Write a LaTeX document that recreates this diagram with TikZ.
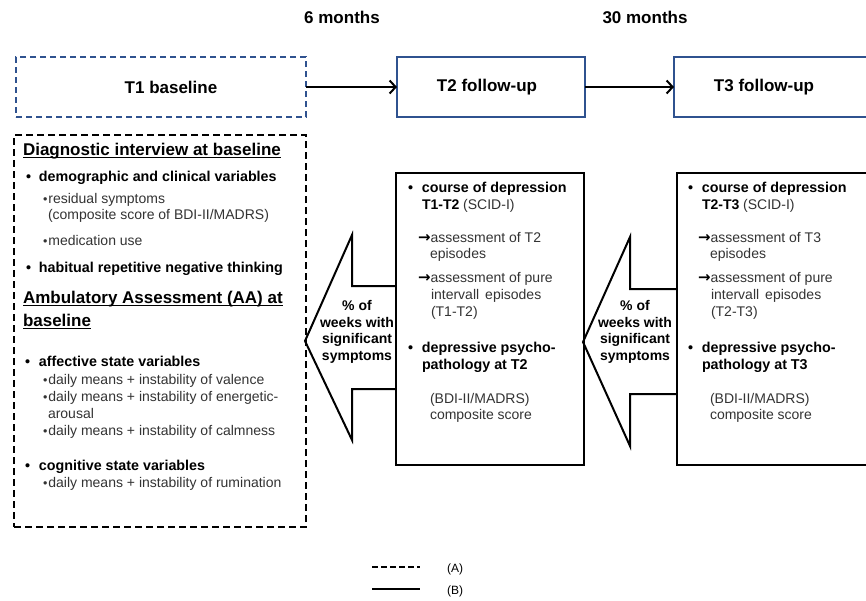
\documentclass[tikz,border=0pt]{standalone}
\usepackage{fontspec}
\setmainfont{Liberation Sans}
\newfontfamily\symfont{DejaVu Sans}
\usetikzlibrary{arrows.meta}
\definecolor{boxblue}{HTML}{2F528F}
\definecolor{bodygray}{HTML}{333333}
\newcommand{\sbul}{{\fontsize{12.5}{12}\selectfont•}\hspace{1pt}}
\newcommand{\rarr}{{\symfont\bfseries\fontsize{15}{15}\selectfont\color{black}→}}
\begin{document}
\begin{tikzpicture}[x=1pt,y=-1pt,
  every node/.style={inner sep=0pt, outer sep=0pt},
  tbox/.style={draw=boxblue, line width=2pt, minimum height=60pt},
  head/.style={font=\fontsize{17}{20}\selectfont\bfseries},
  hb/.style={anchor=base west, font=\fontsize{17}{20}\selectfont\bfseries},
  body/.style={anchor=base west, font=\fontsize{14}{17}\selectfont, text=bodygray},
  bbody/.style={anchor=base west, font=\fontsize{14.3}{17}\selectfont\bfseries, text=black},
  atext/.style={align=center, font=\fontsize{14}{16.7}\selectfont\bfseries},
  conn/.style={line width=2.5pt, -{Straight Barb[length=6pt,width=13pt,line width=2pt]}},
  bigarrow/.style={draw=black, line width=2pt, fill=white, line join=miter},
  panel/.style={draw=black, line width=2pt},
  uline/.style={line width=1.3pt},
  legline/.style={line width=2.5pt}
]
\useasboundingbox (0,0) rectangle (866,600);
\fill[white] (0,0) rectangle (866,600);

% time labels
\node[head] (m6) at (342,17) {6 months};
\node[head] (m30) at (645,17) {30 months};

% top boxes
\node[tbox, dash pattern=on 6pt off 4pt, minimum width=290pt] (t1) at (161,87) {};
\node[head] (t1l) at (171,87) {T1 baseline};
\node[tbox, minimum width=188pt] (t2) at (491,87) {};
\node[head] (t2l) at (487,87) {T2 follow-up};
\node[tbox, minimum width=206pt] (t3) at (777,87) {};
\node[head] (t3l) at (764,87) {T3 follow-up};
\draw[conn] (t1.east) -- (t2.west);
\draw[conn] (t2.east) -- (t3.west);

% big arrows
\draw[bigarrow] (396,286) -- (352,286) -- (352,235) -- (305,341) -- (352,440) -- (352,389) -- (396,389);
\draw[bigarrow] (677,289) -- (630,289) -- (630,237) -- (583,342) -- (630,446) -- (630,394) -- (677,394);
\node[atext] (a1t) at (357,332) {\% of\\weeks with\\significant\\symptoms};
\node[atext] (a2t) at (635,332) {\% of\\weeks with\\significant\\symptoms};

% panels
\node[panel, dash pattern=on 7pt off 4pt, minimum width=292pt, minimum height=392pt] (left) at (160,331) {};
\node[panel, minimum width=188pt, minimum height=292pt] (p2) at (490,319) {};
\node[panel, minimum width=206pt, minimum height=292pt] (p3) at (780,319) {};

% left panel text
\node[hb] (d1) at (23,155) {Diagnostic interview at baseline};
\draw[uline] ([yshift=-2.5pt]d1.base west) -- ([yshift=-2.5pt]d1.base east);
\node[bbody] (d2) at (26,181) {\makebox[13pt][l]{•}demographic and clinical variables};
\node[body] (d3) at (43,203) {\sbul residual symptoms};
\node[body] (d4) at (48,219) {(composite score of BDI-II/MADRS)};
\node[body] (d5) at (43,245) {\sbul medication use};
\node[bbody] (d6) at (26,272) {\makebox[13pt][l]{•}habitual repetitive negative thinking};
\node[hb] (d7) at (23,303) {Ambulatory Assessment (AA) at};
\draw[uline] ([yshift=-2.5pt]d7.base west) -- ([yshift=-2.5pt]d7.base east);
\node[hb] (d8) at (23,326) {baseline};
\draw[uline] ([yshift=-2.5pt]d8.base west) -- ([yshift=-2.5pt]d8.base east);
\node[bbody] (d9) at (25,366) {\makebox[14pt][l]{•}affective state variables};
\node[body] (d10) at (43,384) {\sbul daily means + instability of valence};
\node[body] (d11) at (43,401) {\sbul daily means + instability of energetic-};
\node[body] (d12) at (48,418) {arousal};
\node[body] (d13) at (43,435) {\sbul daily means + instability of calmness};
\node[bbody] (d14) at (25,470) {\makebox[14pt][l]{•}cognitive state variables};
\node[body] (d15) at (43,487) {\sbul daily means + instability of rumination};

% T2 panel text
\node[bbody] (b1) at (408,192) {\makebox[14pt][l]{•}course of depression};
\node[body] (b2) at (422,209) {\textcolor{black}{\bfseries T1-T2} (SCID-I)};
\node[body] (b3) at (418,242) {\rarr assessment of T2};
\node[body] (b4) at (430,258) {episodes};
\node[body] (b5) at (418,282) {\rarr assessment of pure};
\node[body] (b6) at (431,299) {intervall\hspace{6pt}episodes};
\node[body] (b7) at (431,316) {(T1-T2)};
\node[bbody] (b8) at (408,352) {\makebox[14pt][l]{•}depressive psycho-};
\node[bbody] (b9) at (422,369) {pathology at T2};
\node[body] (b10) at (430,403) {(BDI-II/MADRS)};
\node[body] (b11) at (430,419) {composite score};

% T3 panel text
\node[bbody] (c1) at (688,192) {\makebox[14pt][l]{•}course of depression};
\node[body] (c2) at (702,209) {\textcolor{black}{\bfseries T2-T3} (SCID-I)};
\node[body] (c3) at (698,242) {\rarr assessment of T3};
\node[body] (c4) at (710,258) {episodes};
\node[body] (c5) at (698,282) {\rarr assessment of pure};
\node[body] (c6) at (711,299) {intervall\hspace{6pt}episodes};
\node[body] (c7) at (711,316) {(T2-T3)};
\node[bbody] (c8) at (688,352) {\makebox[14pt][l]{•}depressive psycho-};
\node[bbody] (c9) at (702,369) {pathology at T3};
\node[body] (c10) at (710,403) {(BDI-II/MADRS)};
\node[body] (c11) at (710,419) {composite score};

% legend
\coordinate (la1) at (372,567);
\coordinate (la2) at (420,567);
\coordinate (lb1) at (372,589);
\coordinate (lb2) at (420,589);
\draw[legline, dash pattern=on 6pt off 3pt] (la1) -- (la2);
\draw[legline] (lb1) -- (lb2);
\node[font=\fontsize{12}{14}\selectfont, anchor=west] (lA) at (447,569) {(A)};
\node[font=\fontsize{12}{14}\selectfont, anchor=west] (lB) at (447,591) {(B)};
\end{tikzpicture}
\end{document}
